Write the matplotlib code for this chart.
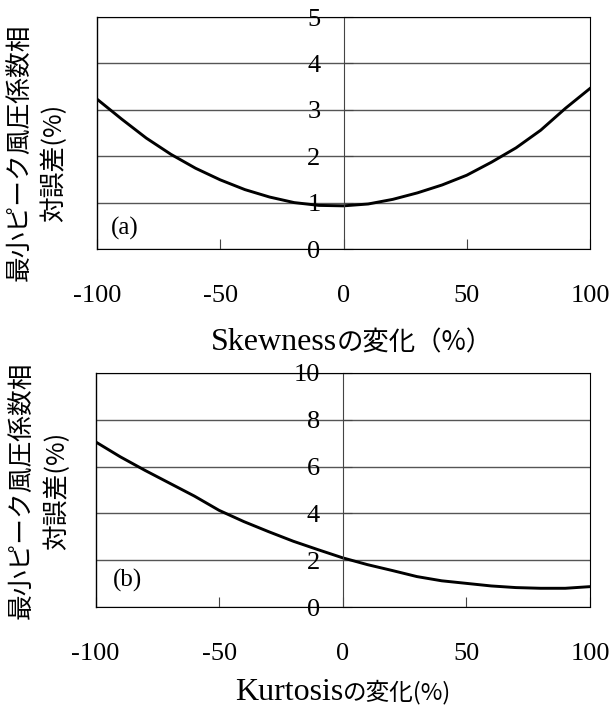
"""Two-panel chart: relative error of minimum peak pressure coefficient
versus change in skewness (a) and kurtosis (b)."""

import matplotlib
matplotlib.use("Agg")
import matplotlib.pyplot as plt
from matplotlib.offsetbox import AnchoredOffsetbox, HPacker, TextArea

plt.rcParams["axes.unicode_minus"] = False

# data
x_change = [-100, -90, -80, -70, -60, -50, -40, -30, -20, -10, 0,
            10, 20, 30, 40, 50, 60, 70, 80, 90, 100]
skew_err = [3.23, 2.80, 2.39, 2.04, 1.74, 1.49, 1.28, 1.12, 1.00, 0.94, 0.93,
            0.97, 1.07, 1.21, 1.38, 1.59, 1.87, 2.18, 2.56, 3.03, 3.46]
kurt_err = [7.06, 6.42, 5.84, 5.29, 4.74, 4.13, 3.65, 3.22, 2.81, 2.45, 2.10,
            1.81, 1.56, 1.30, 1.12, 1.01, 0.90, 0.83, 0.80, 0.80, 0.87]
x_ticks = [-100, -50, 0, 50, 100]
skew_yticks = [0, 1, 2, 3, 4, 5]
kurt_yticks = [0, 2, 4, 6, 8, 10]

SERIF = ["Liberation Serif", "Noto Sans CJK JP"]
JP = ["Noto Sans CJK JP", "DejaVu Sans"]
W, H = 613, 713


def fx(px):
    return px / W


def fy(py):
    return 1 - py / H


fig = plt.figure(figsize=(W / 100, H / 100), dpi=100)


def mixed_xlabel(ax, latin, jp, jp_size, anchor):
    # latin word in a Times-like face, Japanese part in its own size, one baseline
    parts = [TextArea(latin, textprops=dict(family=SERIF, size=23)),
             TextArea(jp, textprops=dict(family=JP, size=jp_size))]
    box = HPacker(children=parts, align="baseline", pad=0, sep=0)
    anchored = AnchoredOffsetbox(loc="center", child=box, pad=0, borderpad=0,
                                 frameon=False, bbox_to_anchor=anchor,
                                 bbox_transform=ax.transAxes)
    anchored.set_clip_on(False)
    ax.add_artist(anchored)


def draw_panel(box, values, yticks, xlab, tag, tag_xy, xlabel_xy, ylab):
    left, top, right, bottom = box
    ax = fig.add_axes([fx(left), fy(bottom), (right - left) / W, (bottom - top) / H])
    ax.plot(x_change, values, color="black", lw=2.1, solid_joinstyle="round")
    ax.set_xlim(-100, 100)
    ax.set_ylim(yticks[0], yticks[-1])
    ax.set_xticks(x_ticks)
    ax.set_yticks(yticks)
    ax.grid(axis="y", color="#555555", lw=1.0)
    ax.set_axisbelow(True)

    ax.spines["left"].set_position(("data", 0))
    ax.spines["left"].set_color("#444444")
    for side in ("top", "right", "bottom"):
        ax.spines[side].set_color("black")
    ax.axvline(-100, color="black", lw=1.0, clip_on=False)

    ax.tick_params(axis="x", direction="in", length=7, pad=26, color="#444444")
    ax.tick_params(axis="y", direction="in", length=6.5, pad=16.5, color="#444444")
    for lab in ax.get_xticklabels() + ax.get_yticklabels():
        lab.set_fontfamily(SERIF)
        lab.set_fontsize(19)

    latin, jp, jp_size = xlab
    lx, ly = xlabel_xy
    mixed_xlabel(ax, latin, jp, jp_size,
                 ((lx - left) / (right - left), -(ly - bottom) / (bottom - top)))

    ax.text(tag_xy[0], tag_xy[1], tag, transform=ax.transAxes, fontsize=18,
            family=SERIF, ha="left", va="center")

    for text, px, py in ylab:
        fig.text(fx(px), fy(py), text, rotation=90, fontsize=18.5, family=JP,
                 ha="center", va="center")
    return ax


draw_panel((97, 17, 590, 249), skew_err, skew_yticks,
           ("Skewness", "の変化（%）", 19), "(a)", (0.028, 0.09), (352, 343),
           [("最小ピーク風圧係数相", 19.5, 152), ("対誤差(%)", 54, 163)])

draw_panel((95.5, 373, 590, 607), kurt_err, kurt_yticks,
           ("Kurtosis", "の変化(%)", 17), "(b)", (0.036, 0.112), (343, 692),
           [("最小ピーク風圧係数相", 22, 490), ("対誤差(%)", 57, 491)])

fig.savefig("out.png", dpi=100)
